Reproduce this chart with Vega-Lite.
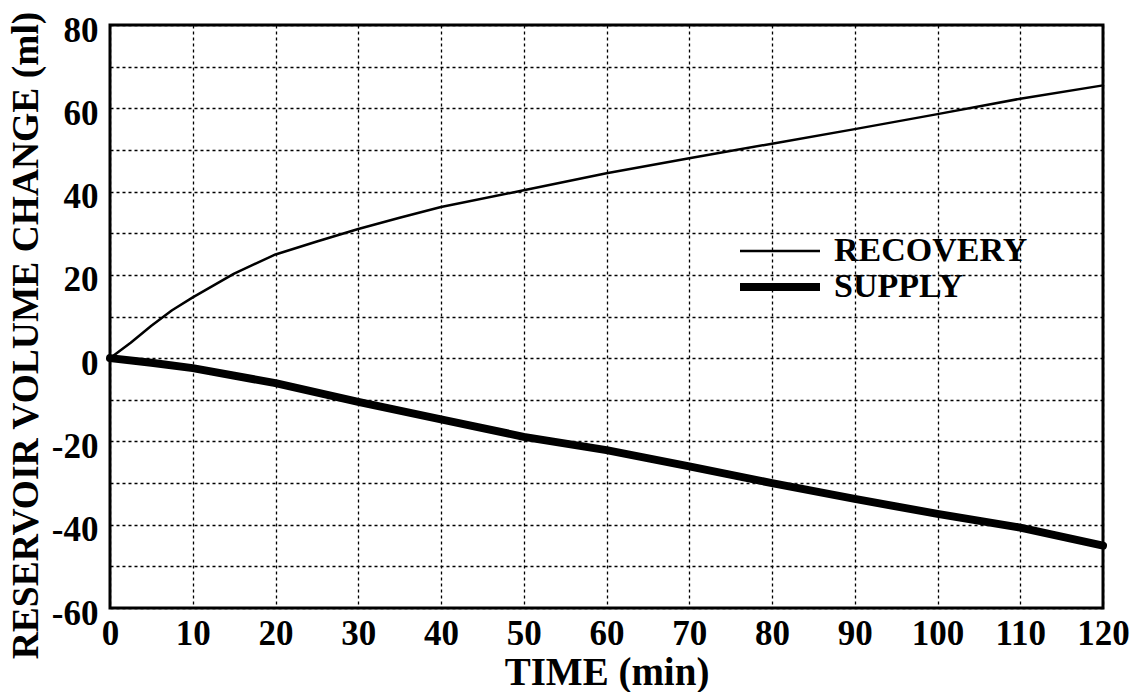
{
  "$schema": "https://vega.github.io/schema/vega-lite/v6.json",
  "autosize": {"type": "none"},
  "padding": {"left": 110, "top": 25, "right": 45, "bottom": 84},
  "width": 993,
  "height": 583,
  "background": "white",
  "config": {
    "font": "Liberation Serif",
    "view": {"stroke": "black", "strokeWidth": 3}
  },
  "data": {
    "values": [
      {"time": 0, "change": 0, "series": "RECOVERY"},
      {"time": 1, "change": 1.5, "series": "RECOVERY"},
      {"time": 2.5, "change": 3.7, "series": "RECOVERY"},
      {"time": 5, "change": 7.8, "series": "RECOVERY"},
      {"time": 7.5, "change": 11.5, "series": "RECOVERY"},
      {"time": 10, "change": 14.6, "series": "RECOVERY"},
      {"time": 15, "change": 20.3, "series": "RECOVERY"},
      {"time": 20, "change": 24.9, "series": "RECOVERY"},
      {"time": 25, "change": 28.0, "series": "RECOVERY"},
      {"time": 30, "change": 31.0, "series": "RECOVERY"},
      {"time": 35, "change": 33.7, "series": "RECOVERY"},
      {"time": 40, "change": 36.3, "series": "RECOVERY"},
      {"time": 50, "change": 40.3, "series": "RECOVERY"},
      {"time": 60, "change": 44.4, "series": "RECOVERY"},
      {"time": 70, "change": 48.0, "series": "RECOVERY"},
      {"time": 80, "change": 51.5, "series": "RECOVERY"},
      {"time": 90, "change": 55.0, "series": "RECOVERY"},
      {"time": 100, "change": 58.6, "series": "RECOVERY"},
      {"time": 110, "change": 62.3, "series": "RECOVERY"},
      {"time": 120, "change": 65.5, "series": "RECOVERY"},
      {"time": 0, "change": 0, "series": "SUPPLY"},
      {"time": 5, "change": -1.1, "series": "SUPPLY"},
      {"time": 10, "change": -2.4, "series": "SUPPLY"},
      {"time": 20, "change": -6.0, "series": "SUPPLY"},
      {"time": 30, "change": -10.5, "series": "SUPPLY"},
      {"time": 40, "change": -14.7, "series": "SUPPLY"},
      {"time": 50, "change": -18.9, "series": "SUPPLY"},
      {"time": 60, "change": -22.1, "series": "SUPPLY"},
      {"time": 70, "change": -26.0, "series": "SUPPLY"},
      {"time": 80, "change": -30.0, "series": "SUPPLY"},
      {"time": 90, "change": -33.8, "series": "SUPPLY"},
      {"time": 100, "change": -37.4, "series": "SUPPLY"},
      {"time": 110, "change": -40.7, "series": "SUPPLY"},
      {"time": 120, "change": -45.0, "series": "SUPPLY"}
    ]
  },
  "mark": {"type": "line", "color": "black", "strokeCap": "round", "strokeJoin": "round"},
  "encoding": {
    "x": {
      "field": "time", "type": "quantitative",
      "scale": {"domain": [0, 120], "nice": false},
      "axis": {
        "title": "TIME (min)",
        "values": [0, 10, 20, 30, 40, 50, 60, 70, 80, 90, 100, 110, 120],
        "domain": false, "ticks": false,
        "grid": true, "gridColor": "black", "gridDash": [3, 3], "gridWidth": 1.3, "gridOpacity": 1,
        "labelFont": "Liberation Serif", "labelFontWeight": "bold", "labelFontSize": 35, "labelColor": "black",
        "labelPadding": 8, "labelFlush": false, "labelOverlap": false,
        "titleFont": "Liberation Serif", "titleFontWeight": "bold", "titleFontSize": 39, "titleColor": "black",
        "titlePadding": 2
      }
    },
    "y": {
      "field": "change", "type": "quantitative",
      "scale": {"domain": [-60, 80], "nice": false},
      "axis": {
        "title": "RESERVOIR VOLUME CHANGE (ml)",
        "values": [-60, -50, -40, -30, -20, -10, 0, 10, 20, 30, 40, 50, 60, 70, 80],
        "labelExpr": "datum.value % 20 === 0 ? '' + datum.value : ''",
        "domain": false, "ticks": false,
        "grid": true, "gridColor": "black", "gridDash": [3, 3], "gridWidth": 1.3, "gridOpacity": 1,
        "labelFont": "Liberation Serif", "labelFontWeight": "bold", "labelFontSize": 35, "labelColor": "black",
        "labelPadding": 12, "labelOffset": 5, "labelFlush": false, "labelOverlap": false,
        "titleFont": "Liberation Serif", "titleFontWeight": "bold", "titleFontSize": 37.5, "titleColor": "black",
        "titleX": -84, "titleY": 310, "titleBaseline": "middle"
      }
    },
    "detail": {"field": "series"},
    "strokeWidth": {
      "field": "series", "type": "nominal",
      "scale": {"domain": ["RECOVERY", "SUPPLY"], "range": [2.5, 8]},
      "legend": {
        "title": null,
        "orient": "none",
        "legendX": 626,
        "legendY": 208,
        "symbolType": "stroke",
        "symbolSize": 6400,
        "symbolStrokeColor": "black",
        "labelFont": "Liberation Serif", "labelFontWeight": "bold", "labelFontSize": 34, "labelColor": "black",
        "labelOffset": 10,
        "labelLimit": 400,
        "clipHeight": 36,
        "rowPadding": 0,
        "padding": 0
      }
    }
  }
}
